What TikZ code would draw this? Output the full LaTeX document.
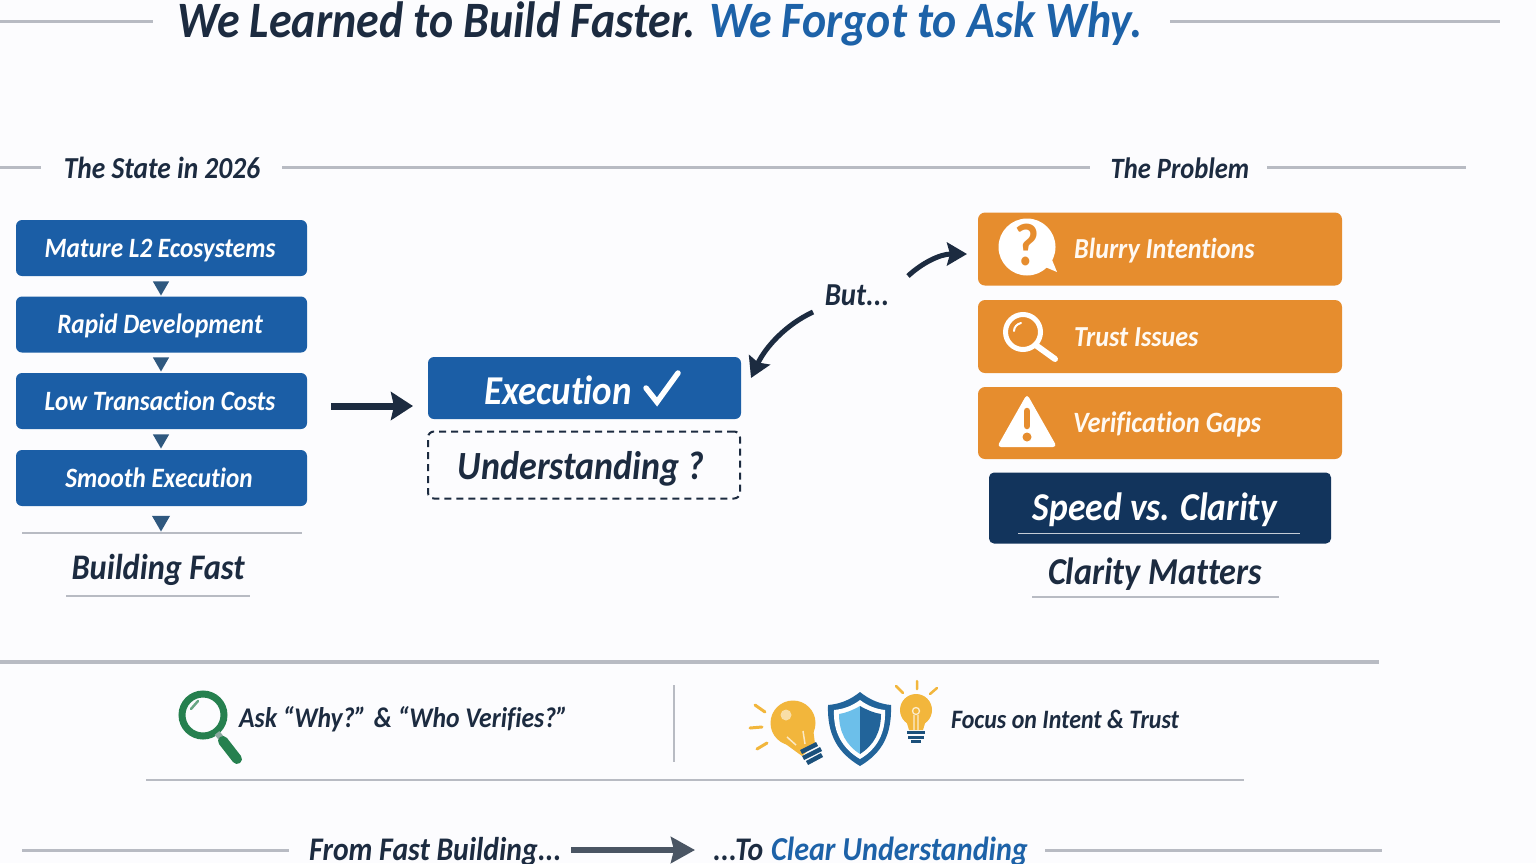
\documentclass[tikz,border=0pt]{standalone}
\usepackage{fontspec}
\setmainfont{Carlito}[FakeStretch=0.9,Ligatures=NoCommon]
\usetikzlibrary{arrows.meta,shapes.geometric}
\definecolor{pagebg}{HTML}{FCFCFE}
\definecolor{inkdark}{HTML}{1C2B40}
\definecolor{titleblue}{HTML}{1D62A8}
\definecolor{boxblue}{HTML}{1B5EA6}
\definecolor{boxorange}{HTML}{E68D2E}
\definecolor{boxnavy}{HTML}{12345C}
\definecolor{rulegrey}{HTML}{B8BBC3}
\definecolor{tipblue}{HTML}{2F587F}
\definecolor{arrowgrey}{HTML}{4A5563}
\definecolor{glassgreen}{HTML}{26804F}
\definecolor{bulbyellow}{HTML}{F2B63C}
\definecolor{shielddark}{HTML}{22649A}
\definecolor{shieldlight}{HTML}{6CBFEA}
\newcommand{\fsz}[1]{\bfseries\itshape\fontsize{#1}{#1}\selectfont}
\tikzset{
  rulerline/.style={rulegrey, line width=3},
  thinrule/.style={rulegrey, line width=1.6},
  inktext/.style={inkdark, inner sep=0},
  bluebox/.style={fill=boxblue, rounded corners=6, minimum width=291, minimum height=56, text=white, font=\fsz{28}, inner sep=0, text height=18, text depth=0},
  orangebox/.style={fill=boxorange, rounded corners=7, minimum width=364, minimum height=73, inner sep=0},
  orangetext/.style={anchor=base west, text=white!95!orange, font=\fsz{29}, inner sep=0},
  downtip/.style={regular polygon, regular polygon sides=3, shape border rotate=180, fill=tipblue, minimum size=19, inner sep=0},
  fatarrow/.style={inkdark, line width=7, -{Stealth[length=22,width=28,inset=3]}},
  bendarrow/.style={inkdark, line width=5, -{Stealth[length=20,width=23,inset=3]}},
  iconline/.style={line cap=round}
}
\begin{document}
\begin{tikzpicture}[x=1pt,y=-1pt]
\useasboundingbox (0,0) rectangle (1536,863);
\fill[pagebg] (0,0) rectangle (1536,863);
% title
\node[inktext, font=\fsz{51}, anchor=base west] (titleleft) at (177,37) {We Learned to Build Faster.};
\node[titleblue, font=\fsz{51}, anchor=base west, inner sep=0] (titleright) at (709,37) {We Forgot to Ask Why.};
\draw[rulerline] (0,21) -- (153,21);
\draw[rulerline] (1170,21) -- (1500,21);
% section heads
\node[inktext, font=\fsz{30.5}, anchor=base] (statehead) at (162,178) {The State in 2026};
\node[inktext, font=\fsz{29.5}, anchor=base] (problemhead) at (1180,178) {The Problem};
\draw[rulerline] (0,167) -- (41,167);
\draw[rulerline] (282,167) -- (1090,167);
\draw[rulerline] (1267,167) -- (1466,167);
% left column
\node[bluebox] (mature) at (161.5,248) {\hspace*{-3pt}Mature L2 Ecosystems};
\node[bluebox] (rapid) at (161.5,324.5) {\hspace*{-3pt}Rapid Development};
\node[bluebox] (lowcost) at (161.5,401) {\hspace*{-3pt}Low Transaction Costs};
\node[bluebox] (smooth) at (161.5,478) {\hspace*{-5pt}Smooth Execution};
\node[downtip] (tipa) at (161,286) {};
\node[downtip] (tipb) at (161,362) {};
\node[downtip] (tipc) at (161,439) {};
\node[downtip, minimum size=21] (tipd) at (161,521) {};
\draw[thinrule] (22,533) -- (302,533);
\node[inktext, font=\fsz{36}, anchor=base] (buildfast) at (158,579) {Building Fast};
\draw[thinrule] (66,596) -- (250,596);
% middle
\coordinate (arrowstart) at (331,406);
\coordinate (arrowend) at (413,406);
\draw[fatarrow] (arrowstart) -- (arrowend);
\node[fill=boxblue, rounded corners=6, minimum width=313, minimum height=62, inner sep=0] (execbox) at (584.5,388) {};
\node[text=white, font=\fsz{41}, inner sep=0, anchor=base] (exectext) at (558,404) {Execution};
\draw[white, line width=5.5, iconline] (646,388) -- (657,402) -- (678,373);
\node[draw=inkdark, dash pattern=on 7 off 5, line width=2, rounded corners=6, minimum width=312, minimum height=67, inner sep=0] (understand) at (584,465) {};
\node[inktext, font=\fsz{40}, anchor=base] (undertext) at (581,479) {Understanding ?};
\node[inktext, font=\fsz{32}, anchor=base] (but) at (857,305) {But...};
\coordinate (bendstarta) at (908,276);
\coordinate (bendenda) at (967,254);
\coordinate (bendstartb) at (813,312);
\coordinate (bendendb) at (751,378);
\draw[bendarrow] (bendstarta) .. controls (922,263) and (940,254) .. (bendenda);
\draw[bendarrow] (bendstartb) .. controls (785,325) and (765,348) .. (bendendb);
% right column
\node[orangebox] (blurry) at (1160,249) {};
\node[orangebox] (trust) at (1160,336.5) {};
\node[orangebox, minimum height=72] (gaps) at (1160,423) {};
\node[orangetext] (blurrytext) at (1074,258) {Blurry Intentions};
\node[orangetext] (trusttext) at (1074,346) {Trust Issues};
\node[orangetext, font=\fsz{29.5}] (gapstext) at (1073,432) {Verification Gaps};
% question bubble
\fill[white] (1027,247) circle (28.5);
\fill[white] (1038,264) -- (1057,272) -- (1048,250) -- cycle;
\node[boxorange, font=\bfseries\fontsize{60}{60}\selectfont, inner sep=0, anchor=base] (qmark) at (1027,265) {?};
% orange magnifier
\draw[white, line width=5] (1023,332) circle (17.5);
\draw[white, line width=6, iconline] (1037,346) -- (1055,359);
\draw[white, line width=2, iconline] (1014,331) .. controls (1014,327) and (1017,324) .. (1021,323);
% warning triangle
\fill[white, rounded corners=4] (1027,394) -- (1057,447) -- (997,447) -- cycle;
\draw[boxorange, line width=6.5, line cap=round] (1027,411) -- (1027,426);
\fill[boxorange] (1027,437) circle (4.5);
% navy box
\node[fill=boxnavy, rounded corners=5, minimum width=342, minimum height=71, inner sep=0] (speed) at (1160,508) {};
\node[text=white, font=\fsz{39.5}, inner sep=0, anchor=base] (speedtext) at (1155,520) {Speed vs. Clarity};
\draw[white!75!boxnavy, line width=1] (1018,533) -- (1300,533);
\node[inktext, font=\fsz{38}, anchor=base] (clarity) at (1155,584) {Clarity Matters};
\draw[thinrule] (1032,597) -- (1279,597);
% lower band
\draw[rulerline, line width=3.4] (0,662) -- (1379,662);
\draw[rulerline, line width=2.4] (674,685) -- (674,762);
\draw[rulerline, line width=2.4] (146,780) -- (1244,780);
% green magnifier
\draw[glassgreen, line width=7] (203,715) circle (21);
\draw[rulegrey!70!glassgreen, line width=6] (217,733) -- (222,739);
\draw[glassgreen, line width=10, iconline] (223,741) -- (237,759);
\draw[glassgreen!70!white, line width=2.5, iconline] (191,709) -- (198,701);
\node[inktext, font=\fsz{28.5}, anchor=base west] (asktext) at (239,727) {Ask “Why?” \& “Who Verifies?”};
% big bulb
\draw[bulbyellow, line width=3, iconline] (755,705) -- (765,712) (750,728) -- (762,727) (757,749) -- (767,743);
\fill[bulbyellow] (793,723) circle (22.5);
\fill[bulbyellow] (776,737) -- (802,756) -- (815,744) -- (812,720) -- cycle;
\fill[white!55!bulbyellow] (786,715) circle (5.5);
\draw[white!70!bulbyellow, line width=1.5] (796,745) -- (787,737) (805,744) -- (803,731);
\draw[shielddark!80!black, line width=4.5] (801,752) -- (817,744) (803,758) -- (821,749) (807,763) -- (822,755);
% shield
\fill[shielddark] (860,692) .. controls (870,700) and (880,704) .. (891,705) .. controls (892,735) and (882,753) .. (860,766) .. controls (838,753) and (827,735) .. (828,705) .. controls (840,704) and (850,700) .. (860,692) -- cycle;
\fill[white] (860,700) .. controls (868,706) and (876,709) .. (885,710) .. controls (886,733) and (877,749) .. (860,759) .. controls (843,749) and (833,733) .. (834,710) .. controls (844,709) and (852,706) .. (860,700) -- cycle;
\fill[shieldlight] (860,706) .. controls (853,710) and (846,713) .. (839,714) .. controls (839,732) and (846,745) .. (860,754) -- cycle;
\fill[shielddark] (860,706) .. controls (867,710) and (874,713) .. (881,714) .. controls (881,732) and (874,745) .. (860,754) -- cycle;
% small bulb
\draw[bulbyellow, line width=2.5, iconline] (917,681) -- (917,689) (896,686) -- (903,693) (937,688) -- (930,694);
\fill[bulbyellow] (916,710) circle (16);
\fill[bulbyellow] (906,720) -- (909,730) -- (923,730) -- (926,720) -- cycle;
\draw[white!75!bulbyellow, line width=1.3] (916,711) circle (3.5) (914,715) -- (914,730) (918,715) -- (918,730);
\draw[shielddark!80!black, line width=3] (907,732) -- (925,732) (908,737) -- (924,737) (911,741) -- (921,741);
\node[inktext, font=\fsz{26.6}, anchor=base west] (focustext) at (951,728) {Focus on Intent \& Trust};
% bottom line
\draw[rulerline] (22,850) -- (289,850);
\draw[rulerline] (1045,850) -- (1382,850);
\node[inktext, font=\fsz{33}, anchor=base west] (fromtext) at (309,860) {From Fast Building...};
\node[inktext, font=\fsz{33}, anchor=base west] (totext) at (713,860) {...To};
\node[titleblue, font=\fsz{33.5}, anchor=base west, inner sep=0] (cleartext) at (771,860) {Clear Understanding};
\coordinate (fromend) at (571,850);
\coordinate (toend) at (695,850);
\draw[arrowgrey, line width=6, -{Stealth[length=24,width=26,inset=3]}] (fromend) -- (toend);
\end{tikzpicture}
\end{document}
